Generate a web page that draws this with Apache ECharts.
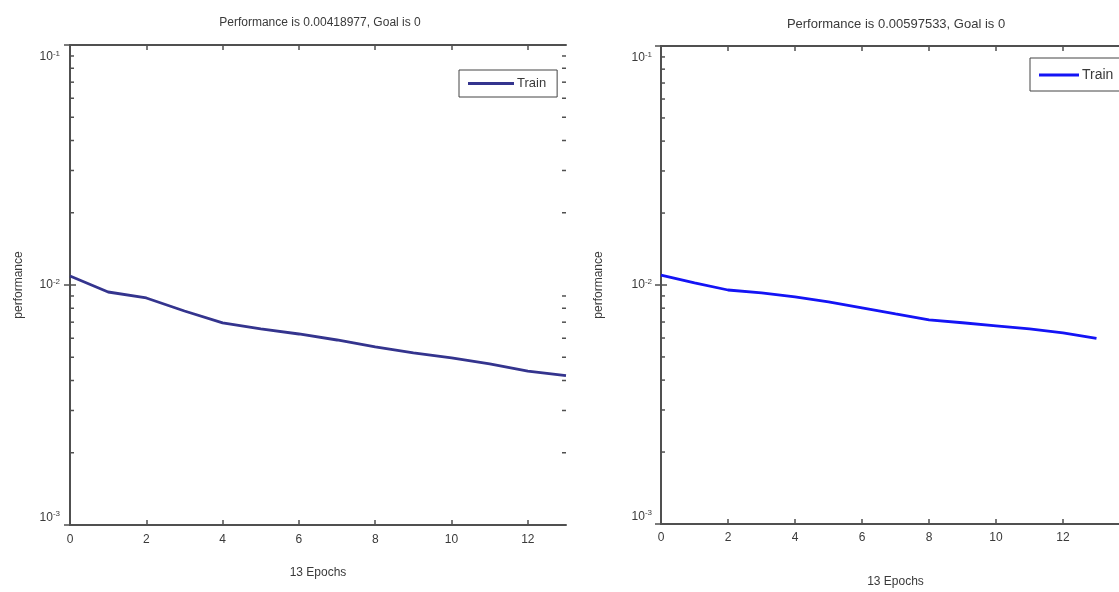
<!DOCTYPE html>
<html>
<head>
<meta charset="utf-8">
<script src="https://cdn.jsdelivr.net/npm/echarts@6/dist/echarts.min.js"></script>
<style>
  html, body { margin: 0; padding: 0; background: #fff; width: 1119px; height: 592px; overflow: hidden; position: relative; }
  #left { position: absolute; left: 0; top: 0; width: 580px; height: 592px; }
  #right { position: absolute; left: 580px; top: 0; width: 620px; height: 592px; }
</style>
</head>
<body>
<div id="left"></div>
<div id="right"></div>
<script>
// ---- data ----
const leftTitle = 'Performance is 0.00418977, Goal is 0';
const rightTitle = 'Performance is 0.00597533, Goal is 0';
const epochsLeft = [0, 1, 2, 3, 4, 5, 6, 7, 8, 9, 10, 11, 12, 13];
const trainLeft = [0.0109, 0.00935, 0.00883, 0.00779, 0.00695, 0.00656, 0.00625, 0.00590, 0.00552, 0.00521, 0.00497, 0.00469, 0.00438, 0.00419];
const epochsRight = [0, 1, 2, 3, 4, 5, 6, 7, 8, 9, 10, 11, 12, 13];
const trainRight = [0.0110, 0.0102, 0.00953, 0.00926, 0.00891, 0.00850, 0.00802, 0.00757, 0.00715, 0.00695, 0.00675, 0.00655, 0.00630, 0.00598];
const xTicks = [0, 2, 4, 6, 8, 10, 12];
const yMajorTicks = [0.001, 0.01, 0.1];
const yMinorTicks = [0.002, 0.003, 0.004, 0.005, 0.006, 0.007, 0.008, 0.009,
                     0.02, 0.03, 0.04, 0.05, 0.06, 0.07, 0.08, 0.09];
const xAxisName = '13 Epochs';
const yAxisName = 'performance';
const legendName = 'Train';

const FONT = 'Liberation Sans, Arial, sans-serif';
const TXT = '#3a3a3a';
const AX = '#505050';

function build(cfg) {
  const supFmt = function (v) {
    const e = Math.round(Math.log10(v));
    const body = '{b|10}{s|' + e + '}';
    return v >= 0.099 ? '{g|}\n' + body : body;
  };
  return {
    animation: false,
    textStyle: { fontFamily: FONT, color: TXT },
    title: {
      text: cfg.title, left: cfg.titleX, top: cfg.titleTop, textAlign: 'center',
      textStyle: { fontFamily: FONT, fontSize: cfg.titleSize, fontWeight: 'normal', color: TXT }
    },
    legend: {
      data: [legendName], left: cfg.legLeft, top: cfg.legTop,
      orient: 'vertical', icon: 'rect', itemWidth: cfg.legItemW, itemHeight: 3,
      padding: cfg.legPad, borderColor: '#444', borderWidth: 1, backgroundColor: '#fff',
      itemGap: 0,
      textStyle: { fontFamily: FONT, fontSize: cfg.legFont, color: TXT, padding: [0, 0, 0, -2] }
    },
    grid: { left: cfg.gl, top: cfg.gt, width: cfg.gw, height: cfg.gh, containLabel: false,
            outerBoundsMode: 'none' },
    xAxis: [
      {
        type: 'value', min: 0, max: cfg.xmax, interval: 2, position: 'bottom',
        name: xAxisName, nameLocation: 'middle', nameGap: cfg.xNameGap,
        nameTextStyle: { fontFamily: FONT, fontSize: 12, color: TXT },
        axisLine: { show: true, lineStyle: { color: AX, width: 2 } },
        axisTick: { show: true, inside: true, length: 5, lineStyle: { color: AX, width: 1.5 },
                    customValues: xTicks },
        axisLabel: { show: true, fontFamily: FONT, fontSize: 12, color: TXT, margin: cfg.xLabMargin,
                     customValues: xTicks },
        splitLine: { show: false }
      },
      {
        type: 'value', min: 0, max: cfg.xmax, interval: 2, position: 'top',
        axisLine: { show: true, onZero: false, lineStyle: { color: AX, width: 2 } },
        axisTick: { show: true, inside: true, length: 5, lineStyle: { color: AX, width: 1.5 },
                    customValues: xTicks },
        axisLabel: { show: false },
        splitLine: { show: false }
      }
    ],
    yAxis: [
      {
        type: 'log', logBase: 10, min: 0.001, max: 0.1, position: 'left',
        name: yAxisName, nameLocation: 'middle', nameGap: cfg.yNameGap, nameRotate: 90,
        nameTextStyle: { fontFamily: FONT, fontSize: 12, color: TXT },
        axisLine: { show: true, lineStyle: { color: AX, width: 2 } },
        axisTick: { show: true, inside: true, length: 6, lineStyle: { color: AX, width: 1.5 } },
        axisLabel: {
          show: true, margin: cfg.yLabMargin, formatter: supFmt,
          verticalAlignMinLabel: 'bottom',
          rich: {
            g: { fontSize: 8, lineHeight: 24 },
            b: { fontFamily: FONT, fontSize: 12, color: TXT, lineHeight: 15 },
            s: { fontFamily: FONT, fontSize: 8, color: TXT, verticalAlign: 'top', lineHeight: 10 }
          }
        },
        splitLine: { show: false }
      },
      {
        type: 'log', logBase: 10, min: 0.001, max: 0.1, position: 'right',
        axisLine: { show: true, lineStyle: { color: AX, width: 2 } },
        axisTick: { show: true, inside: true, length: 6, lineStyle: { color: AX, width: 1.5 } },
        axisLabel: { show: false },
        splitLine: { show: false }
      }
    ],
    series: [
      {
        name: legendName, type: 'line', xAxisIndex: 0, yAxisIndex: 0,
        data: cfg.x.map((e, i) => [e, cfg.y[i]]),
        showSymbol: false, symbol: 'none', smooth: false,
        lineStyle: { color: cfg.color, width: 2.8 }, itemStyle: { color: cfg.color },
        z: 5
      },
      {
        name: 'minor', type: 'custom', xAxisIndex: 0, yAxisIndex: 0, silent: true,
        data: yMinorTicks.map(v => [0, v]),
        clip: false,
        renderItem: function (params, api) {
          const cs = params.coordSys;
          const y = api.coord([0, api.value(1)])[1];
          const st = { stroke: AX, lineWidth: 1.5 };
          return {
            type: 'group',
            children: [
              { type: 'line', shape: { x1: cs.x, y1: y, x2: cs.x + 4, y2: y }, style: st },
              { type: 'line', shape: { x1: cs.x + cs.width, y1: y, x2: cs.x + cs.width - 4, y2: y }, style: st }
            ]
          };
        }
      }
    ]
  };
}

const left = echarts.init(document.getElementById('left'), null, { renderer: 'canvas' });
left.setOption(build({
  title: leftTitle, titleX: 315, titleTop: 12, titleSize: 12,
  legLeft: 459, legTop: 70, legItemW: 46, legPad: [7, 11, 7, 9], legFont: 13,
  gl: 70, gt: 45, gw: 496, gh: 480, xmax: 13,
  xNameGap: 42, xLabMargin: 9, yNameGap: 45, yLabMargin: 10,
  x: epochsLeft, y: trainLeft, color: '#34348e'
}));

const right = echarts.init(document.getElementById('right'), null, { renderer: 'canvas' });
right.setOption(build({
  title: rightTitle, titleX: 311, titleTop: 13, titleSize: 13,
  legLeft: 450, legTop: 58, legItemW: 40, legPad: [10, 12, 9, 9], legFont: 14,
  gl: 81, gt: 46, gw: 469, gh: 478, xmax: 14,
  xNameGap: 52, xLabMargin: 8, yNameGap: 56, yLabMargin: 9,
  x: epochsRight, y: trainRight, color: '#1414f5'
}));
</script>
</body>
</html>
